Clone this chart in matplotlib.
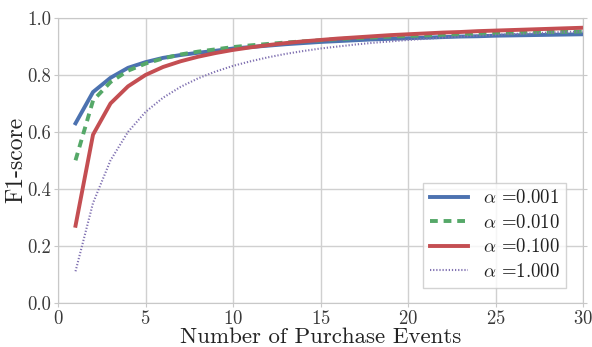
import matplotlib
matplotlib.use("Agg")
import matplotlib.pyplot as plt

plt.rcParams['font.family'] = 'cmr10'
plt.rcParams['mathtext.fontset'] = 'cm'
plt.rcParams['axes.formatter.use_mathtext'] = True

# F1-score per number of purchase events, one series per alpha
events = list(range(1, 31))
f1_a0001 = [0.630, 0.740, 0.790, 0.825, 0.845, 0.860, 0.870, 0.878, 0.885, 0.893,
            0.898, 0.903, 0.908, 0.912, 0.916, 0.919, 0.922, 0.925, 0.927, 0.929,
            0.931, 0.933, 0.935, 0.936, 0.938, 0.939, 0.940, 0.941, 0.942, 0.943]
f1_a001 = [0.500, 0.710, 0.775, 0.815, 0.840, 0.858, 0.872, 0.882, 0.890, 0.898,
           0.904, 0.909, 0.914, 0.918, 0.922, 0.926, 0.929, 0.932, 0.935, 0.937,
           0.939, 0.941, 0.943, 0.945, 0.947, 0.948, 0.950, 0.951, 0.952, 0.953]
f1_a01 = [0.270, 0.590, 0.700, 0.760, 0.800, 0.828, 0.848, 0.864, 0.877, 0.888,
          0.897, 0.905, 0.912, 0.918, 0.923, 0.928, 0.932, 0.936, 0.940, 0.943,
          0.946, 0.949, 0.951, 0.954, 0.956, 0.958, 0.960, 0.962, 0.964, 0.966]
f1_a1 = [0.110, 0.350, 0.500, 0.600, 0.670, 0.720, 0.758, 0.788, 0.812, 0.832,
         0.848, 0.862, 0.874, 0.884, 0.893, 0.900, 0.907, 0.913, 0.918, 0.923,
         0.927, 0.931, 0.935, 0.938, 0.941, 0.944, 0.946, 0.949, 0.951, 0.953]
alphas = ['0.001', '0.010', '0.100', '1.000']

fig = plt.figure(figsize=(5.92, 3.47), dpi=100)
ax = fig.add_axes([0.098, 0.128, 0.887, 0.820])

ax.plot(events, f1_a0001, color='#4C72B0', lw=2.8, label=r'$\alpha$ =' + alphas[0])
ax.plot(events, f1_a001, color='#55A868', lw=2.8, ls=(0, (2, 1.5)), label=r'$\alpha$ =' + alphas[1])
ax.plot(events, f1_a01, color='#C44E52', lw=2.8, label=r'$\alpha$ =' + alphas[2])
ax.plot(events, f1_a1, color='#8172B2', lw=1.5, ls=(0, (0.6, 0.9)), label=r'$\alpha$ =' + alphas[3])

ax.set_xlim(0, 30)
ax.set_ylim(0, 1.0)
ax.set_xticks([0, 5, 10, 15, 20, 25, 30])
ax.set_yticks([0.0, 0.2, 0.4, 0.6, 0.8, 1.0])
ax.yaxis.set_major_formatter(matplotlib.ticker.FormatStrFormatter('%.1f'))
ax.grid(True, color='#d0d0d0', lw=1)
ax.set_axisbelow(True)
for s in ax.spines.values():
    s.set_color('#c8c8c8')
ax.tick_params(labelsize=13.5, colors='#3a3a3a', length=3, color='#c8c8c8',
               right=True, labelright=False, pad=2)
for t in ax.get_xticklabels() + ax.get_yticklabels():
    t.set_color('#3a3a3a')

ax.set_xlabel('Number of Purchase Events', fontsize=16.5, color='#222222', labelpad=0)
ax.set_ylabel('F1-score', fontsize=17, color='#222222', labelpad=0)

leg = ax.legend(loc='lower right', prop={'family': 'cmr10', 'size': 13.5},
                frameon=True, fancybox=False, handlelength=2.0, borderpad=0.35,
                labelspacing=0.35, handletextpad=0.8, bbox_to_anchor=(0.985, 0.02))
leg.get_frame().set_edgecolor('#c8c8c8')
for t in leg.get_texts():
    t.set_color('#222222')

fig.savefig('out.png', dpi=100)
